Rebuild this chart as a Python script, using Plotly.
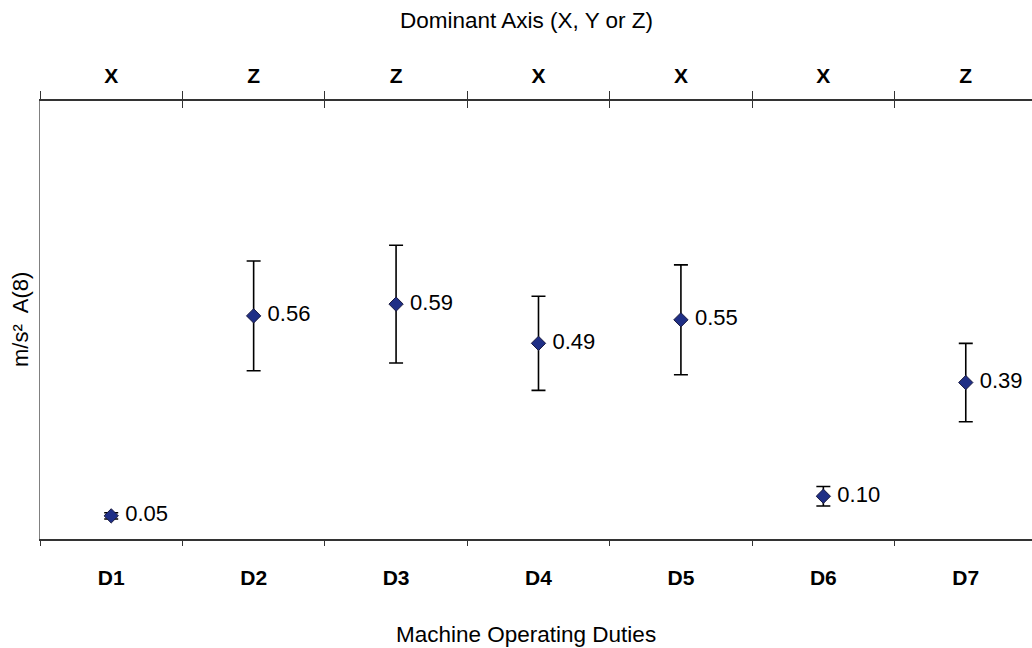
import plotly.graph_objects as go

duties = ["D1", "D2", "D3", "D4", "D5", "D6", "D7"]
dominant_axis = ["X", "Z", "Z", "X", "X", "X", "Z"]
a8_values = [0.05, 0.56, 0.59, 0.49, 0.55, 0.10, 0.39]
a8_errors = [0.008, 0.14, 0.15, 0.12, 0.14, 0.025, 0.10]
value_labels = [f"{v:.2f}" for v in a8_values]

xpos = list(range(len(duties)))
boundaries = [i - 0.5 for i in range(len(duties) + 1)]

FONT = "Arial, Liberation Sans, sans-serif"

fig = go.Figure()
fig.add_trace(go.Scatter(
    x=xpos, y=a8_values,
    mode="markers+text",
    text=value_labels,
    texttemplate="\u00a0%{text}",
    textposition="middle right",
    textfont=dict(family=FONT, size=22, color="#000000"),
    marker=dict(symbol="diamond", size=11, color="#1f2f86",
                line=dict(color="#1a1a40", width=1)),
    error_y=dict(type="data", array=a8_errors, visible=True,
                 color="#000000", thickness=1.6, width=7),
    showlegend=False, cliponaxis=False,
))
# invisible traces to anchor top axes
fig.add_trace(go.Scatter(x=xpos, y=a8_values, xaxis="x2", mode="markers",
                         marker=dict(opacity=0), showlegend=False, hoverinfo="skip"))
fig.add_trace(go.Scatter(x=xpos, y=a8_values, xaxis="x3", mode="markers",
                         marker=dict(opacity=0), showlegend=False, hoverinfo="skip"))

font_tick = dict(family=FONT, size=21, color="#000000")

fig.update_layout(
    width=1032, height=648,
    margin=dict(l=40, r=0, t=101, b=109),
    paper_bgcolor="white", plot_bgcolor="white",
    xaxis=dict(
        range=[-0.5, 6.465],
        tickvals=xpos, ticktext=[f"<b>{d}</b>" for d in duties],
        tickfont=font_tick,
        ticks="", showgrid=False, zeroline=False,
        showline=True, linecolor="#333333", linewidth=1.5,
        minor=dict(tickvals=boundaries, ticks="outside", ticklen=5,
                   tickcolor="#333333", tickwidth=1.2, showgrid=False),
        ticklabelstandoff=19,
    ),
    xaxis2=dict(
        overlaying="x", side="top", matches="x",
        tickvals=xpos, ticktext=[f"<b>{a}</b>" for a in dominant_axis],
        tickfont=font_tick,
        ticks="", showgrid=False, zeroline=False,
        showline=True, linecolor="#333333", linewidth=1.5,
        minor=dict(tickvals=boundaries, ticks="outside", ticklen=8,
                   tickcolor="#333333", tickwidth=1.2, showgrid=False),
        ticklabelstandoff=8,
    ),
    xaxis3=dict(
        overlaying="x", side="top", matches="x",
        tickvals=boundaries, showticklabels=False,
        ticks="inside", ticklen=7, tickcolor="#333333", tickwidth=1.2,
        showgrid=False, zeroline=False, showline=False,
    ),
    yaxis=dict(
        range=[-0.009, 1.108],
        showticklabels=False, ticks="", showgrid=False, zeroline=False,
        showline=True, linecolor="#808080", linewidth=1.2,
    ),
    annotations=[
        dict(text="Dominant Axis (X, Y or Z)", xref="paper", yref="paper",
             x=0.49, y=1, yshift=81, showarrow=False, yanchor="middle",
             font=dict(family=FONT, size=22.5, color="#000000")),
        dict(text="Machine Operating Duties", xref="paper", yref="paper",
             x=0.49, y=0, yshift=-95, showarrow=False, yanchor="middle",
             font=dict(family=FONT, size=22.5, color="#000000")),
        dict(text="m/s²  A(8)", xref="paper", yref="paper",
             x=0, xshift=-20, y=0.5, xanchor="center", yanchor="middle",
             textangle=-90, showarrow=False,
             font=dict(family=FONT, size=22, color="#000000")),
    ],
)

fig.write_html("out.html",
               config={"displayModeBar": False},
               post_script="document.body.style.margin='0';document.body.style.overflow='hidden';")
